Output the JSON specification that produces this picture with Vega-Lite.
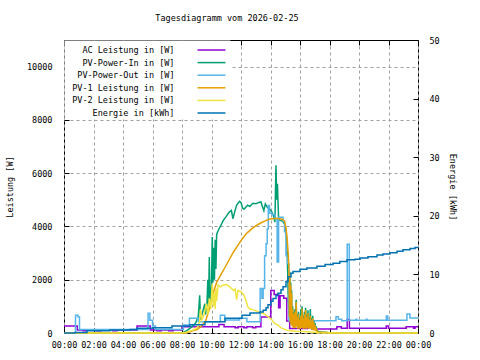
{
  "$schema": "https://vega.github.io/schema/vega-lite/v6.json",
  "width": 354,
  "height": 293,
  "autosize": {"type": "none"},
  "padding": {"left": 64, "top": 40, "right": 62, "bottom": 27},
  "background": "white",
  "title": {"text": "Tagesdiagramm vom 2026-02-25", "font": "DejaVu Sans Mono", "fontSize": 8.5, "fontWeight": "normal", "color": "black", "anchor": "middle", "dx": -14, "offset": 14},
  "config": {
    "view": {"stroke": "black", "strokeWidth": 1},
    "axis": {"domain": false, "tickColor": "black", "tickSize": -5, "labelFont": "DejaVu Sans Mono", "labelFontSize": 8.5, "labelColor": "black", "titleFont": "DejaVu Sans Mono", "titleFontSize": 8.5, "titleFontWeight": "normal", "titleColor": "black", "gridColor": "#a0a0a0", "gridDash": [3, 3], "gridWidth": 1},
    "legend": {"labelFont": "DejaVu Sans Mono", "labelFontSize": 8.5, "labelColor": "black"}
  },
  "datasets": {
    "ac": [
      {"t": 0, "v": 260}, {"t": 0.9, "v": 110}, {"t": 1.3, "v": 85}, {"t": 1.5, "v": 110}, {"t": 2.2, "v": 85}, {"t": 2.5, "v": 110}, {"t": 3.3, "v": 85}, {"t": 3.6, "v": 110}, {"t": 4.95, "v": 260}, {"t": 5.85, "v": 110}, {"t": 6.3, "v": 85}, {"t": 6.6, "v": 110}, {"t": 7.1, "v": 85}, {"t": 7.4, "v": 110}, {"t": 8.0, "v": 230}, {"t": 10.5, "v": 320}, {"t": 10.85, "v": 230}, {"t": 11.6, "v": 200}, {"t": 11.8, "v": 230}, {"t": 12.2, "v": 200}, {"t": 12.4, "v": 230}, {"t": 12.8, "v": 200}, {"t": 13.0, "v": 230}, {"t": 13.35, "v": 600}, {"t": 14.02, "v": 1600}, {"t": 14.25, "v": 1450}, {"t": 14.55, "v": 950}, {"t": 14.65, "v": 1400}, {"t": 14.9, "v": 1300}, {"t": 15.1, "v": 450}, {"t": 15.3, "v": 170}, {"t": 16.5, "v": 200}, {"t": 16.8, "v": 150}, {"t": 18.5, "v": 235}, {"t": 18.8, "v": 175}, {"t": 19.2, "v": 510}, {"t": 19.35, "v": 175}, {"t": 21.85, "v": 260}, {"t": 22.0, "v": 175}, {"t": 23.2, "v": 235}, {"t": 23.7, "v": 175}, {"t": 23.8, "v": 235}, {"t": 24, "v": 235}
    ],
    "pin": [
      {"t": 0, "v": 0}, {"t": 8.0, "v": 0}, {"t": 8.3, "v": 80}, {"t": 8.6, "v": 200}, {"t": 8.9, "v": 350}, {"t": 9.1, "v": 600}, {"t": 9.2, "v": 1420}, {"t": 9.25, "v": 500}, {"t": 9.4, "v": 800}, {"t": 9.55, "v": 1100}, {"t": 9.6, "v": 700}, {"t": 9.7, "v": 1200}, {"t": 9.75, "v": 2000}, {"t": 9.8, "v": 900}, {"t": 9.85, "v": 2850}, {"t": 9.9, "v": 1000}, {"t": 10.0, "v": 1800}, {"t": 10.05, "v": 3600}, {"t": 10.1, "v": 1900}, {"t": 10.15, "v": 3200}, {"t": 10.2, "v": 2000}, {"t": 10.25, "v": 3500}, {"t": 10.3, "v": 2400}, {"t": 10.35, "v": 3700}, {"t": 10.45, "v": 3850}, {"t": 10.6, "v": 4000}, {"t": 10.8, "v": 4230}, {"t": 11.0, "v": 4380}, {"t": 11.2, "v": 4540}, {"t": 11.35, "v": 4600}, {"t": 11.45, "v": 4290}, {"t": 11.55, "v": 4500}, {"t": 11.7, "v": 4790}, {"t": 11.9, "v": 4940}, {"t": 12.0, "v": 4900}, {"t": 12.1, "v": 4700}, {"t": 12.2, "v": 4650}, {"t": 12.45, "v": 4800}, {"t": 12.6, "v": 4750}, {"t": 12.8, "v": 4870}, {"t": 13.0, "v": 4850}, {"t": 13.2, "v": 4900}, {"t": 13.35, "v": 4920}, {"t": 13.45, "v": 4750}, {"t": 13.55, "v": 4600}, {"t": 13.65, "v": 4850}, {"t": 13.8, "v": 4700}, {"t": 13.95, "v": 4650}, {"t": 14.1, "v": 4540}, {"t": 14.2, "v": 4400}, {"t": 14.3, "v": 4160}, {"t": 14.37, "v": 6300}, {"t": 14.42, "v": 5000}, {"t": 14.47, "v": 5600}, {"t": 14.55, "v": 4250}, {"t": 14.8, "v": 4200}, {"t": 14.95, "v": 4100}, {"t": 15.05, "v": 3850}, {"t": 15.13, "v": 3100}, {"t": 15.2, "v": 1400}, {"t": 15.25, "v": 700}, {"t": 15.31, "v": 2300}, {"t": 15.34, "v": 450}, {"t": 15.37, "v": 1900}, {"t": 15.4, "v": 350}, {"t": 15.43, "v": 1600}, {"t": 15.46, "v": 300}, {"t": 15.5, "v": 1000}, {"t": 15.54, "v": 250}, {"t": 15.58, "v": 800}, {"t": 15.62, "v": 230}, {"t": 15.66, "v": 900}, {"t": 15.7, "v": 250}, {"t": 15.74, "v": 1250}, {"t": 15.78, "v": 300}, {"t": 15.82, "v": 700}, {"t": 15.86, "v": 200}, {"t": 15.9, "v": 800}, {"t": 15.94, "v": 250}, {"t": 15.98, "v": 600}, {"t": 16.02, "v": 200}, {"t": 16.06, "v": 900}, {"t": 16.1, "v": 250}, {"t": 16.14, "v": 1000}, {"t": 16.18, "v": 230}, {"t": 16.22, "v": 650}, {"t": 16.26, "v": 200}, {"t": 16.3, "v": 800}, {"t": 16.34, "v": 250}, {"t": 16.38, "v": 950}, {"t": 16.42, "v": 200}, {"t": 16.46, "v": 700}, {"t": 16.5, "v": 250}, {"t": 16.54, "v": 850}, {"t": 16.58, "v": 200}, {"t": 16.62, "v": 600}, {"t": 16.66, "v": 230}, {"t": 16.7, "v": 900}, {"t": 16.74, "v": 200}, {"t": 16.78, "v": 550}, {"t": 16.82, "v": 170}, {"t": 16.86, "v": 650}, {"t": 16.9, "v": 150}, {"t": 16.94, "v": 480}, {"t": 16.98, "v": 150}, {"t": 17.02, "v": 380}, {"t": 17.06, "v": 120}, {"t": 17.1, "v": 250}, {"t": 17.15, "v": 90}, {"t": 17.25, "v": 60}, {"t": 17.5, "v": 40}, {"t": 17.85, "v": 20}, {"t": 18.1, "v": 0}, {"t": 24, "v": 0}
    ],
    "pout": [
      {"t": 0, "v": 0}, {"t": 0.78, "v": 670}, {"t": 0.95, "v": 600}, {"t": 1.05, "v": 130}, {"t": 5.7, "v": 740}, {"t": 5.82, "v": 480}, {"t": 6.0, "v": 260}, {"t": 6.2, "v": 130}, {"t": 8.1, "v": 300}, {"t": 8.5, "v": 550}, {"t": 9.1, "v": 420}, {"t": 10.6, "v": 670}, {"t": 10.9, "v": 490}, {"t": 11.9, "v": 550}, {"t": 12.4, "v": 420}, {"t": 13.3, "v": 1670}, {"t": 13.42, "v": 1300}, {"t": 13.5, "v": 1670}, {"t": 13.6, "v": 2900}, {"t": 13.7, "v": 3350}, {"t": 13.78, "v": 3900}, {"t": 13.85, "v": 4790}, {"t": 13.93, "v": 4500}, {"t": 14.1, "v": 4450}, {"t": 14.3, "v": 4300}, {"t": 14.45, "v": 2670}, {"t": 14.55, "v": 4350}, {"t": 14.85, "v": 4200}, {"t": 14.95, "v": 3800}, {"t": 15.05, "v": 2900}, {"t": 15.15, "v": 2600}, {"t": 15.25, "v": 460}, {"t": 18.44, "v": 610}, {"t": 18.6, "v": 520}, {"t": 18.83, "v": 460}, {"t": 19.2, "v": 3330}, {"t": 19.34, "v": 480}, {"t": 19.8, "v": 520}, {"t": 19.85, "v": 480}, {"t": 20.5, "v": 520}, {"t": 20.55, "v": 480}, {"t": 21.85, "v": 640}, {"t": 21.95, "v": 480}, {"t": 23.25, "v": 710}, {"t": 23.45, "v": 560}, {"t": 24, "v": 560}
    ],
    "pv1": [
      {"t": 0, "v": 0}, {"t": 8.2, "v": 0}, {"t": 8.5, "v": 40}, {"t": 8.8, "v": 100}, {"t": 9.0, "v": 120}, {"t": 9.3, "v": 250}, {"t": 9.6, "v": 450}, {"t": 9.85, "v": 900}, {"t": 10.0, "v": 1250}, {"t": 10.2, "v": 1650}, {"t": 10.35, "v": 1900}, {"t": 10.6, "v": 2150}, {"t": 10.9, "v": 2450}, {"t": 11.2, "v": 2750}, {"t": 11.5, "v": 3050}, {"t": 11.8, "v": 3300}, {"t": 12.1, "v": 3550}, {"t": 12.4, "v": 3750}, {"t": 12.7, "v": 3900}, {"t": 13.0, "v": 4020}, {"t": 13.3, "v": 4120}, {"t": 13.6, "v": 4200}, {"t": 13.9, "v": 4270}, {"t": 14.2, "v": 4300}, {"t": 14.5, "v": 4300}, {"t": 14.8, "v": 4270}, {"t": 14.95, "v": 4200}, {"t": 15.05, "v": 3950}, {"t": 15.12, "v": 3600}, {"t": 15.2, "v": 3000}, {"t": 15.25, "v": 2400}, {"t": 15.28, "v": 600}, {"t": 15.31, "v": 2200}, {"t": 15.34, "v": 400}, {"t": 15.37, "v": 1800}, {"t": 15.4, "v": 300}, {"t": 15.43, "v": 1500}, {"t": 15.46, "v": 250}, {"t": 15.5, "v": 900}, {"t": 15.54, "v": 200}, {"t": 15.58, "v": 700}, {"t": 15.62, "v": 180}, {"t": 15.66, "v": 800}, {"t": 15.7, "v": 200}, {"t": 15.74, "v": 1170}, {"t": 15.78, "v": 250}, {"t": 15.82, "v": 600}, {"t": 15.86, "v": 150}, {"t": 15.9, "v": 700}, {"t": 15.94, "v": 200}, {"t": 15.98, "v": 500}, {"t": 16.02, "v": 150}, {"t": 16.06, "v": 650}, {"t": 16.1, "v": 200}, {"t": 16.14, "v": 920}, {"t": 16.18, "v": 180}, {"t": 16.22, "v": 550}, {"t": 16.26, "v": 150}, {"t": 16.3, "v": 700}, {"t": 16.34, "v": 200}, {"t": 16.38, "v": 860}, {"t": 16.42, "v": 150}, {"t": 16.46, "v": 600}, {"t": 16.5, "v": 200}, {"t": 16.54, "v": 750}, {"t": 16.58, "v": 150}, {"t": 16.62, "v": 500}, {"t": 16.66, "v": 180}, {"t": 16.7, "v": 650}, {"t": 16.74, "v": 150}, {"t": 16.78, "v": 450}, {"t": 16.82, "v": 120}, {"t": 16.86, "v": 550}, {"t": 16.9, "v": 100}, {"t": 16.94, "v": 400}, {"t": 16.98, "v": 100}, {"t": 17.02, "v": 300}, {"t": 17.06, "v": 80}, {"t": 17.1, "v": 200}, {"t": 17.15, "v": 60}, {"t": 17.25, "v": 40}, {"t": 17.5, "v": 30}, {"t": 17.85, "v": 20}, {"t": 18.1, "v": 0}, {"t": 24, "v": 0}
    ],
    "pv2": [
      {"t": 0, "v": 0}, {"t": 8.0, "v": 0}, {"t": 8.3, "v": 30}, {"t": 8.6, "v": 80}, {"t": 8.9, "v": 150}, {"t": 9.1, "v": 250}, {"t": 9.2, "v": 450}, {"t": 9.25, "v": 900}, {"t": 9.35, "v": 500}, {"t": 9.5, "v": 700}, {"t": 9.65, "v": 1100}, {"t": 9.75, "v": 700}, {"t": 9.85, "v": 1300}, {"t": 9.95, "v": 900}, {"t": 10.05, "v": 1860}, {"t": 10.12, "v": 1000}, {"t": 10.2, "v": 1500}, {"t": 10.25, "v": 900}, {"t": 10.3, "v": 1700}, {"t": 10.35, "v": 1200}, {"t": 10.45, "v": 1800}, {"t": 10.6, "v": 1730}, {"t": 10.8, "v": 1800}, {"t": 11.0, "v": 1820}, {"t": 11.2, "v": 1750}, {"t": 11.4, "v": 1650}, {"t": 11.5, "v": 1600}, {"t": 11.6, "v": 1650}, {"t": 11.7, "v": 1250}, {"t": 11.8, "v": 1600}, {"t": 12.0, "v": 1550}, {"t": 12.2, "v": 1420}, {"t": 12.35, "v": 1200}, {"t": 12.45, "v": 990}, {"t": 12.6, "v": 900}, {"t": 12.9, "v": 860}, {"t": 13.2, "v": 780}, {"t": 13.5, "v": 740}, {"t": 13.75, "v": 640}, {"t": 13.95, "v": 560}, {"t": 14.1, "v": 490}, {"t": 14.3, "v": 350}, {"t": 14.5, "v": 300}, {"t": 14.7, "v": 200}, {"t": 14.9, "v": 150}, {"t": 15.2, "v": 90}, {"t": 15.7, "v": 70}, {"t": 16.2, "v": 60}, {"t": 16.8, "v": 40}, {"t": 17.2, "v": 10}, {"t": 17.5, "v": 0}, {"t": 24, "v": 0}
    ],
    "en": [
      {"t": 0, "v": 0}, {"t": 0.75, "v": 0.1}, {"t": 1.56, "v": 0.4}, {"t": 3.12, "v": 0.5}, {"t": 4.47, "v": 0.6}, {"t": 4.95, "v": 0.8}, {"t": 6.03, "v": 0.9}, {"t": 7.32, "v": 1.2}, {"t": 8.54, "v": 1.4}, {"t": 9.56, "v": 1.9}, {"t": 10.92, "v": 2.5}, {"t": 12.07, "v": 3.05}, {"t": 12.61, "v": 3.4}, {"t": 13.29, "v": 3.6}, {"t": 13.5, "v": 3.9}, {"t": 13.7, "v": 4.3}, {"t": 13.83, "v": 4.8}, {"t": 14.03, "v": 5.4}, {"t": 14.17, "v": 5.9}, {"t": 14.37, "v": 6.4}, {"t": 14.5, "v": 6.8}, {"t": 14.71, "v": 7.4}, {"t": 14.85, "v": 7.9}, {"t": 15.05, "v": 8.8}, {"t": 15.19, "v": 9.6}, {"t": 15.39, "v": 10.2}, {"t": 15.53, "v": 10.5}, {"t": 16.0, "v": 10.9}, {"t": 16.47, "v": 11.1}, {"t": 17.15, "v": 11.4}, {"t": 17.7, "v": 11.7}, {"t": 18.24, "v": 11.9}, {"t": 18.7, "v": 12.2}, {"t": 19.19, "v": 12.5}, {"t": 19.73, "v": 12.6}, {"t": 20.07, "v": 12.8}, {"t": 20.61, "v": 13.0}, {"t": 21.22, "v": 13.3}, {"t": 21.63, "v": 13.5}, {"t": 22.1, "v": 13.7}, {"t": 22.58, "v": 13.95}, {"t": 22.98, "v": 14.2}, {"t": 23.46, "v": 14.4}, {"t": 23.8, "v": 14.6}, {"t": 24, "v": 14.6}
    ]
  },
  "layer": [
    {
      "encoding": {
        "x": {"field": "t", "type": "quantitative", "scale": {"domain": [0, 24], "nice": false, "zero": false},
              "axis": {"orient": "bottom", "title": null, "values": [0, 2, 4, 6, 8, 10, 12, 14, 16, 18, 20, 22, 24], "labelExpr": "datum.value == 24 ? '00:00' : (datum.value < 10 ? '0' : '') + datum.value + ':00'", "labelPadding": 12, "labelFlush": false, "grid": true}},
        "y": {"field": "v", "type": "quantitative", "scale": {"domain": [0, 11000], "nice": false},
              "axis": {"orient": "left", "title": "Leistung [W]", "format": "d", "values": [0, 2000, 4000, 6000, 8000, 10000], "labelPadding": 17, "titlePadding": 12, "grid": true}}
      },
      "layer": [
        {"data": {"name": "ac"}, "mark": {"type": "line", "interpolate": "step-after", "strokeWidth": 1.5},
         "encoding": {"color": {"datum": "AC Leistung in [W]", "type": "nominal",
           "scale": {"domain": ["AC Leistung in [W]", "PV-Power-In in [W]", "PV-Power-Out in [W]", "PV-1 Leistung in [W]", "PV-2 Leistung in [W]", "Energie in [kWh]"],
                     "range": ["#9400d3", "#009e73", "#56b4e9", "#e69f00", "#f0e442", "#0072b2"]},
           "legend": {"title": null, "orient": "none", "legendX": 0.5, "legendY": 0.5, "symbolType": "M-2.15,0H2.15", "symbolSize": 169, "symbolStrokeWidth": 1.5, "symbolFillColor": "transparent", "symbolOffset": 137.5, "labelAlign": "right", "labelOffset": -44.5, "rowPadding": 0.6, "padding": 2, "fillColor": "white"}}}},
        {"data": {"name": "pin"}, "mark": {"type": "line", "strokeWidth": 1.5}, "encoding": {"color": {"datum": "PV-Power-In in [W]", "type": "nominal"}}},
        {"data": {"name": "pout"}, "mark": {"type": "line", "interpolate": "step-after", "strokeWidth": 1.5}, "encoding": {"color": {"datum": "PV-Power-Out in [W]", "type": "nominal"}}},
        {"data": {"name": "pv1"}, "mark": {"type": "line", "strokeWidth": 1.5}, "encoding": {"color": {"datum": "PV-1 Leistung in [W]", "type": "nominal"}}},
        {"data": {"name": "pv2"}, "mark": {"type": "line", "strokeWidth": 1.5}, "encoding": {"color": {"datum": "PV-2 Leistung in [W]", "type": "nominal"}}}
      ]
    },
    {
      "data": {"name": "en"},
      "mark": {"type": "line", "interpolate": "step-after", "strokeWidth": 1.5},
      "encoding": {
        "x": {"field": "t", "type": "quantitative", "scale": {"domain": [0, 24], "nice": false, "zero": false},
              "axis": {"orient": "top", "title": null, "labels": false, "values": [0, 2, 4, 6, 8, 10, 12, 14, 16, 18, 20, 22, 24], "grid": false}},
        "y": {"field": "v", "type": "quantitative", "scale": {"domain": [0, 50], "nice": false},
              "axis": {"orient": "right", "title": "Energie [kWh]", "values": [0, 10, 20, 30, 40, 50], "labelPadding": 16, "titlePadding": 8, "grid": false}},
        "color": {"datum": "Energie in [kWh]", "type": "nominal"}
      }
    }
  ],
  "resolve": {"scale": {"y": "independent"}, "axis": {"x": "independent"}}
}
